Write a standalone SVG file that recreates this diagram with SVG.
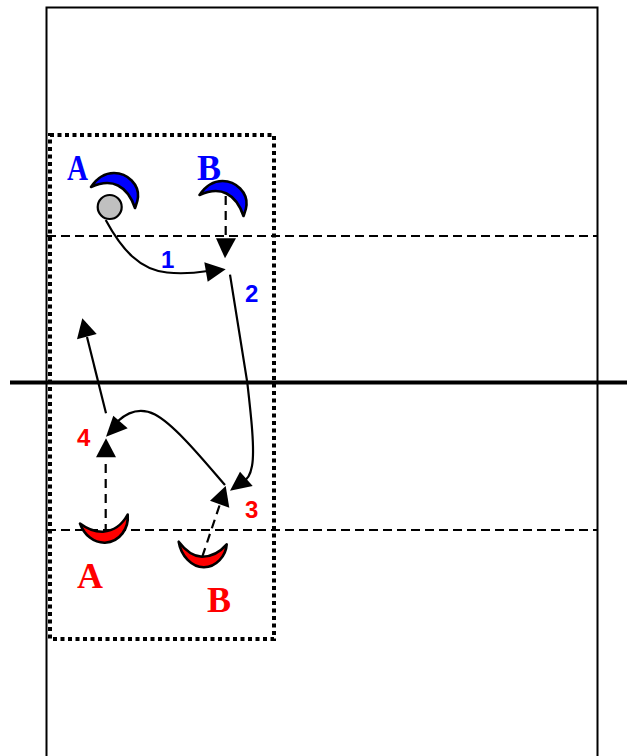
<svg xmlns="http://www.w3.org/2000/svg" width="627" height="756" viewBox="0 0 627 756">
<style>
.court{fill:none;stroke:#000;stroke-width:2}
.mid{fill:none;stroke:#000;stroke-width:4}
.zone{fill:none;stroke:#000;stroke-width:4;stroke-dasharray:4 3.500}
.atk{fill:none;stroke:#000;stroke-width:2;stroke-dasharray:9 5}
.s{fill:none;stroke:#000;stroke-width:2.200}
.d{fill:none;stroke:#000;stroke-width:2.200;stroke-dasharray:9 6}
.h{fill:#000;stroke:none}
.c{stroke:#000;stroke-width:2.600;stroke-linejoin:round}
.blue{fill:#00f}.red{fill:#f00}
.L{font-family:"Liberation Serif",serif;font-weight:bold;font-size:36px}
.n{font-family:"Liberation Sans",sans-serif;font-weight:bold;font-size:24px}
</style>
<rect width="627" height="756" fill="#fff"/>
<g id="court">
<path class="court" d="M46.500 756V7.500H597.500V756"/>
<path class="atk" d="M47 236H597"/>
<path class="atk" d="M47 530H597"/>
<path class="zone" d="M50 135H274V639H50Z"/>
<path class="mid" d="M10 382.500H627"/>
</g>
<g id="connectors">
<path class="s" d="M105.700 220C122 250 140 270 167 272.500C180 274 195 273 208 271"/>
<path class="h" d="M225.700 269.300L204.300 262.300L207.700 281.700Z"/>
<path class="d" d="M225.700 196V240"/>
<path class="h" d="M225 258.300L216 238.300H236Z"/>
<path class="s" d="M230 274.700L247.300 382.700C251 415 255 450 252 466C250.500 474 247 480 243 481"/>
<path class="h" d="M230 490.700L240 471.700L252.700 486Z"/>
<path class="s" d="M225 485C205 462 175 425 155 414.500C140 407 128 412 118 421"/>
<path class="h" d="M106 436.700L113.300 415.700L127.700 428.300Z"/>
<path class="s" d="M106 413.300L87 337"/>
<path class="h" d="M82.300 318.300L77 339.300L96.700 334Z"/>
<path class="d" d="M105.700 533V458"/>
<path class="h" d="M106 438.300L96 457.300H116Z"/>
<path class="d" d="M202.300 556.700L220 504"/>
<path class="h" d="M225.700 486L210 500.700L229.300 507.700Z"/>
</g>
<g id="blue-a">
<path class="c blue" d="M91 187C97 178 105 173 114 173C128 173 139 185 138 197C137.800 201 136 205 135 208C132 199 127 190 118 185.500C110 181.500 100 183 91 187Z"/>
<circle cx="109.700" cy="207" r="12" fill="#c0c0c0" stroke="#000" stroke-width="2.200"/>
<text class="L blue" x="67" y="179.500" textLength="21" lengthAdjust="spacingAndGlyphs">A</text>
</g>
<g id="blue-b">
<path class="c blue" d="M199.500 195C205.500 186 213.500 181 222.500 181C236.500 181 247.500 193 246.500 205C246.300 209 244.500 213 243.500 216C240.500 207 235.500 198 226.500 193.500C218.500 189.500 208.500 191 199.500 195Z"/>
<text class="L blue" x="197" y="180">B</text>
</g>
<g id="red-a">
<path class="c red" d="M80 523.500C84 535 94 543 105 542.700C120 542 129 528 127.700 514.500C122 525 113 531 103 531.700C94 532 86 528 80 523.500Z"/>
<text class="L red" x="77" y="588">A</text>
</g>
<g id="red-b">
<path class="c red" d="M178.700 541.700C181 556 192 567.500 204 567.300C216 567 226 556 226.700 544.300C220 552 211 556.700 202 556.700C193 556.500 185 550 178.700 541.700Z"/>
<text class="L red" x="207" y="612">B</text>
</g>
<g id="labels">
<text class="n blue" x="161" y="268">1</text>
<text class="n blue" x="245" y="302">2</text>
<text class="n red" x="245" y="518">3</text>
<text class="n red" x="77" y="446">4</text>
</g>
</svg>
